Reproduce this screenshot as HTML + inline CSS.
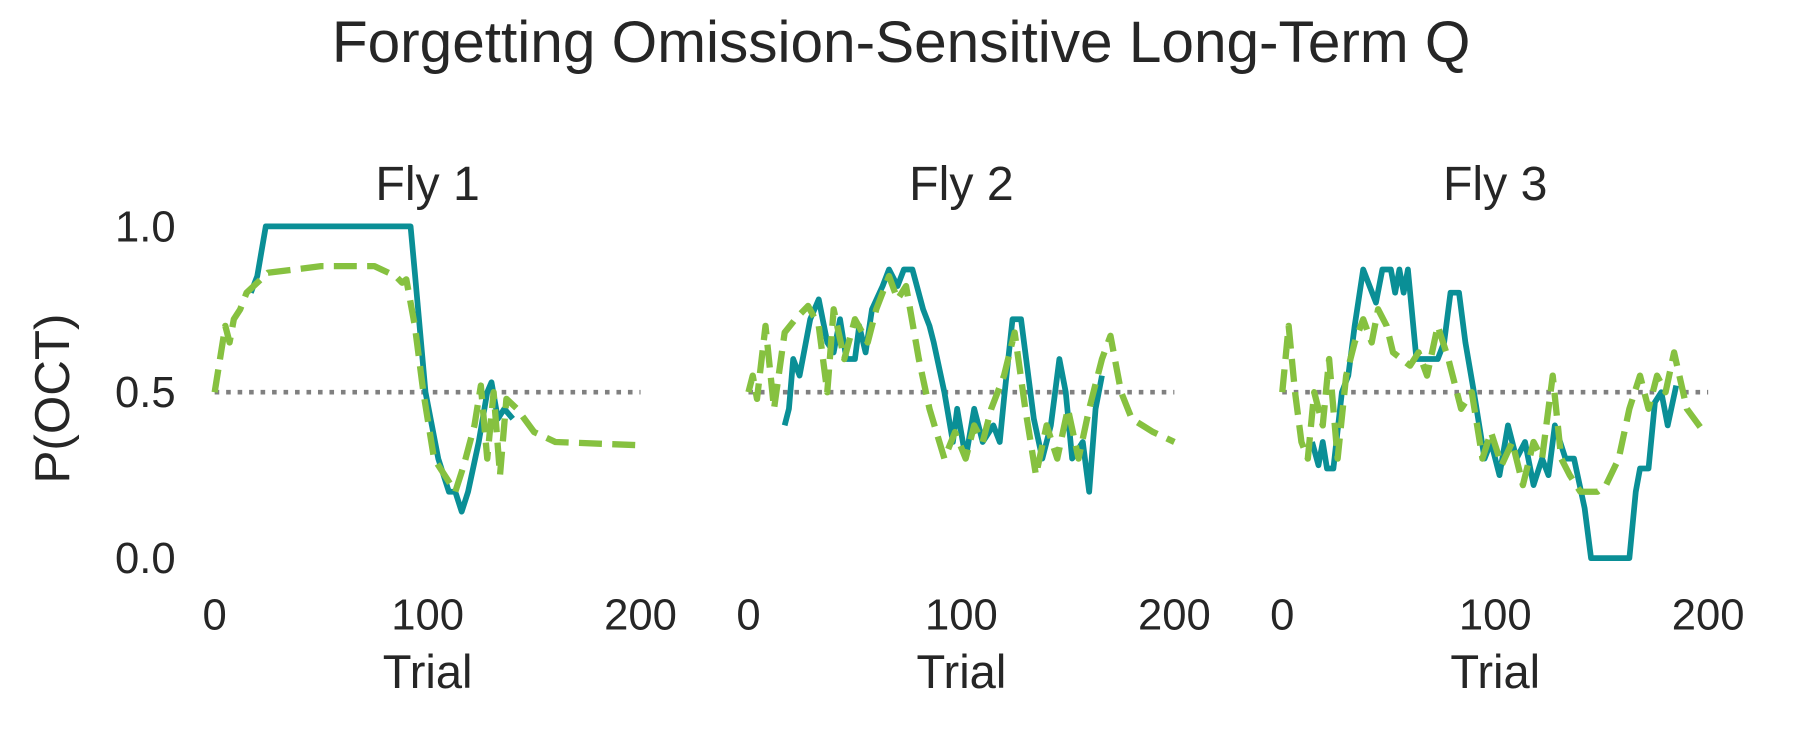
<!DOCTYPE html>
<html><head><meta charset="utf-8"><style>
body{margin:0;background:#fff;}
svg text{font-family:"Liberation Sans",sans-serif;fill:#262626;}
</style></head><body>
<svg width="1800" height="750" viewBox="0 0 1568 653">
<text x="785" y="54" font-size="51" text-anchor="middle">Forgetting Omission-Sensitive Long-Term Q</text>
<text transform="translate(60,347) rotate(-90)" font-size="43" text-anchor="middle">P(OCT)</text>
<g id="plots"></g>
</svg>
<script>
const flyTitles=["Fly 1","Fly 2","Fly 3"];
const xTicks=[0,100,200];
const yTicks=[0.0,0.5,1.0];
const fly1BlueT=[17,20,24,92,94,99,105,110,113,116,119,124,128,130,133,136,140];
const fly1BlueV=[0.8,0.85,1.0,1.0,0.86,0.5,0.3,0.2,0.2,0.14,0.2,0.35,0.5,0.53,0.42,0.45,0.42];
const fly1GreenT=[0,3,5,7,9,12,15,25,50,75,85,88,90,94,98,103,110,113,117,122,125,128,131,134,137,142,150,160,200];
const fly1GreenV=[0.5,0.62,0.7,0.65,0.72,0.75,0.8,0.86,0.88,0.88,0.85,0.83,0.84,0.7,0.5,0.3,0.23,0.2,0.28,0.4,0.52,0.3,0.5,0.25,0.48,0.45,0.38,0.35,0.34];
const fly2BlueT=[17,19,21,24,29,33,37,40,43,46,50,52,55,58,63,66,70,73,77,82,85,87,92,96,98,102,106,110,115,118,120,124,128,131,134,138,142,146,149,152,157,160,163,166];
const fly2BlueV=[0.4,0.45,0.6,0.55,0.72,0.78,0.65,0.62,0.72,0.6,0.6,0.7,0.62,0.75,0.82,0.87,0.82,0.87,0.87,0.75,0.7,0.65,0.5,0.35,0.45,0.3,0.45,0.35,0.4,0.35,0.48,0.72,0.72,0.57,0.42,0.3,0.4,0.6,0.5,0.3,0.35,0.2,0.45,0.55];
const fly2GreenT=[0,2,4,8,12,17,22,28,33,37,40,45,50,56,60,66,70,74,80,85,92,97,102,106,110,114,120,125,130,135,140,145,150,155,160,166,170,175,180,190,200];
const fly2GreenV=[0.5,0.55,0.48,0.7,0.45,0.68,0.72,0.76,0.7,0.5,0.75,0.6,0.72,0.65,0.75,0.85,0.78,0.82,0.6,0.45,0.3,0.38,0.3,0.4,0.35,0.45,0.55,0.68,0.45,0.25,0.4,0.3,0.45,0.3,0.45,0.6,0.67,0.5,0.42,0.38,0.35];
const fly3BlueT=[14,17,19,21,24,28,31,34,38,41,44,47,51,53,55,57,59,63,68,73,76,79,83,86,90,95,98,102,106,110,114,118,122,125,128,133,137,142,145,163,166,168,172,175,178,181,185];
const fly3BlueV=[0.35,0.28,0.35,0.27,0.27,0.5,0.55,0.7,0.87,0.82,0.77,0.87,0.87,0.8,0.87,0.8,0.87,0.6,0.6,0.6,0.65,0.8,0.8,0.65,0.5,0.3,0.35,0.25,0.4,0.3,0.35,0.22,0.3,0.25,0.4,0.3,0.3,0.15,0.0,0.0,0.2,0.27,0.27,0.47,0.5,0.4,0.52];
const fly3GreenT=[0,3,6,9,12,15,19,22,26,30,34,38,42,45,49,52,56,60,64,68,73,78,84,89,94,98,103,108,113,118,122,127,131,135,140,148,152,158,163,168,172,176,180,184,190,198];
const fly3GreenV=[0.5,0.7,0.5,0.35,0.3,0.5,0.4,0.6,0.3,0.55,0.65,0.72,0.65,0.75,0.7,0.62,0.6,0.58,0.62,0.55,0.7,0.6,0.45,0.5,0.3,0.38,0.28,0.35,0.22,0.35,0.3,0.55,0.3,0.25,0.2,0.2,0.22,0.3,0.45,0.55,0.45,0.55,0.5,0.62,0.45,0.38];
const blueT=[fly1BlueT,fly2BlueT,fly3BlueT], blueV=[fly1BlueV,fly2BlueV,fly3BlueV];
const greenT=[fly1GreenT,fly2GreenT,fly3GreenT], greenV=[fly1GreenV,fly2GreenV,fly3GreenV];
const NS="http://www.w3.org/2000/svg";
const g=document.getElementById('plots');
const x0s=[187,652,1117];
const yS=v=>486-v*289;
function mk(tag,attrs){const e=document.createElementNS(NS,tag);for(const k in attrs)e.setAttribute(k,attrs[k]);g.appendChild(e);return e;}
for(let p=0;p<3;p++){
  const xS=t=>x0s[p]+t*1.855;
  const tt=mk('text',{x:xS(100),y:174,'font-size':42,'text-anchor':'middle'});tt.textContent=flyTitles[p];
  
  
  xTicks.forEach(v=>{const t=mk('text',{x:xS(v),y:548,'font-size':38,'text-anchor':'middle'});t.textContent=v;
    
    });
  const xl=mk('text',{x:xS(100),y:599,'font-size':41,'text-anchor':'middle'});xl.textContent='Trial';
  
  
  if(p===0){yTicks.forEach(v=>{const t=mk('text',{x:153,y:yS(v)+13,'font-size':38,'text-anchor':'end'});t.textContent=v.toFixed(1);
    
    });}
  const ref=mk('line',{x1:xS(0),x2:xS(200),y1:yS(0.5),y2:yS(0.5),stroke:'#808080','stroke-width':4,'stroke-dasharray':'4 6'});
  
  
  const bp=mk('path',{d:blueT[p].map((t,i)=>(i?'L':'M')+xS(t)+','+yS(blueV[p][i])).join(''),fill:'none',stroke:'#0a8f96','stroke-width':5,'stroke-linejoin':'round'});
  
  
  const gp=mk('path',{d:greenT[p].map((t,i)=>(i?'L':'M')+xS(t)+','+yS(greenV[p][i])).join(''),fill:'none',stroke:'#86c140','stroke-width':5.5,'stroke-dasharray':'20 9','stroke-linejoin':'round'});
  
  
}
</script>
</body></html>
